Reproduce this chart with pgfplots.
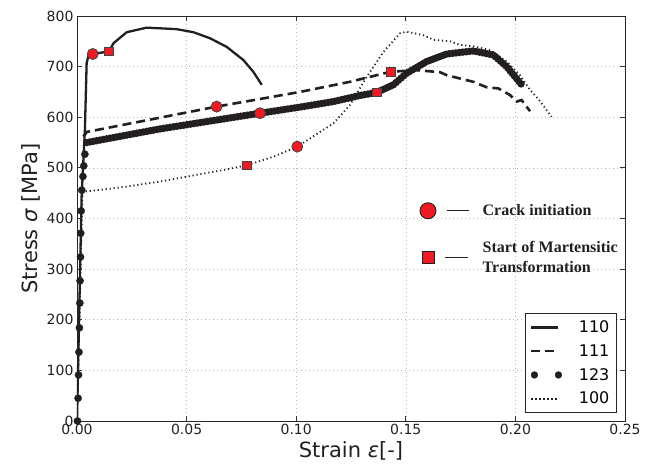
\documentclass[border=0pt]{standalone}
\usepackage{fontspec}
\setmainfont{DejaVu Sans}
\newfontfamily\serifbf{Liberation Serif}
\usepackage{pgfplots}
\pgfplotsset{compat=1.18}
\definecolor{mkred}{RGB}{237,28,36}
\definecolor{ink}{RGB}{35,31,32}
\begin{document}
\begin{tikzpicture}
\begin{axis}[
  name=ax,
  width=548pt, height=405pt, scale only axis,
  xmin=0, xmax=0.25, ymin=0, ymax=800,
  xtick={0,0.05,0.1,0.15,0.2,0.25},
  ytick={0,100,...,800},
  scaled x ticks=false,
  xticklabel style={/pgf/number format/.cd, fixed, fixed zerofill, precision=2},
  /pgf/number format/assume math mode=true,
  tick label style={font=\fontsize{14}{16}\selectfont, text=ink},
  label style={font=\fontsize{21}{24}\selectfont, text=ink},
  xlabel={Strain {\itshape ε}[-]},
  ylabel={Stress {\itshape σ} [MPa]},
  tick align=inside,
  major tick length=5pt,
  tick style={black!80, line width=0.8pt},
  grid=major,
  grid style={gray!55, line width=0.6pt, dash pattern=on 1pt off 3pt},
  axis line style={black!85, line width=0.9pt},
  legend style={at={(axis description cs:0.985,0.02)}, anchor=south east,
    draw=black!85, line width=0.8pt, font=\fontsize{16}{19}\selectfont,
    inner sep=5pt, row sep=6.5pt, column sep=15pt, cells={anchor=west}},
  legend image code/.code={\draw[#1] (0pt,0pt) -- (27pt,0pt);},
]
% 110
\addplot[ink, line width=2.3pt] coordinates {
(0,0) (0.0021,443) (0.0036,575) (0.0044,707) (0.0052,721) (0.0072,725)
(0.0146,730) (0.0166,746) (0.0196,757) (0.0227,768) (0.0318,777)
(0.0455,774) (0.0531,768) (0.0607,756) (0.0683,739) (0.0759,713)
(0.0804,690) (0.0843,664)};
\addlegendentry{110}
% 111
\addplot[ink, line width=2.6pt, dash pattern=on 9pt off 5pt] coordinates {
(0.0029,562) (0.0045,571) (0.0637,621) (0.1017,650) (0.1245,670)
(0.1432,690) (0.155,693) (0.1656,689) (0.1687,683) (0.1808,670)
(0.187,659) (0.1922,657) (0.1975,644) (0.2006,631) (0.2028,634) (0.2067,612)};
\addlegendentry{111}
% 123 elastic (sparse markers)
\addplot[ink, only marks, mark=*, mark size=3.6pt, forget plot] coordinates {
(0.0002,0) (0.0005,45) (0.0007,91) (0.0009,136) (0.0011,184) (0.0013,233)
(0.0014,277) (0.0016,324) (0.0017,371) (0.0019,415) (0.0022,456)
(0.0027,483) (0.0031,504) (0.0036,527)};
% 123 plastic (dense markers)
\addplot[ink, line width=7.5pt, line cap=round, dash pattern=on 0pt off 3.4pt,
  legend image code/.code={\draw[ink, line width=0.4pt, solid, mark=*, mark size=3.4pt, mark options={fill=ink, draw=ink, line width=0.4pt, solid}] plot[only marks] coordinates {(3pt,0pt) (27pt,0pt)};}]
coordinates {
(0.0044,550) (0.0379,577) (0.0835,608) (0.1017,620) (0.117,631)
(0.1291,643) (0.1367,649) (0.1443,664) (0.1504,687) (0.1595,710)
(0.1687,725) (0.1808,731) (0.19,723) (0.196,700) (0.2029,664)};
\addlegendentry{123}
% 100
\addplot[ink, line width=1.8pt, dash pattern=on 1.2pt off 2.8pt] coordinates {
(0,0) (0.0025,450) (0.0029,453) (0.0074,455) (0.0227,463) (0.0379,473)
(0.053,485) (0.0683,497) (0.0774,505) (0.0896,522) (0.1005,542)
(0.117,588) (0.1245,624) (0.1322,680) (0.1398,729) (0.1474,766)
(0.1504,769) (0.158,762) (0.1626,753) (0.1702,750) (0.1747,743)
(0.1808,740) (0.1884,733) (0.196,710) (0.2021,683) (0.2067,654)
(0.2112,632) (0.2165,601)};
\addlegendentry{100}
% crack initiation
\addplot[only marks, mark=*, mark size=5.5pt,
  mark options={fill=mkred, draw=ink!85, line width=0.8pt}, forget plot]
coordinates {(0.0072,725) (0.0637,621) (0.0835,608) (0.1005,542)};
% start of martensitic transformation
\addplot[only marks, mark=square*, mark size=4.4pt,
  mark options={fill=mkred, draw=ink!85, line width=0.8pt}, forget plot]
coordinates {(0.0146,730) (0.1432,690) (0.1367,649) (0.0774,505)};
\end{axis}
\begin{axis}[
  at={(ax.south west)}, anchor=south west,
  width=548pt, height=405pt, scale only axis, hide axis,
  xmin=0, xmax=1, ymin=0, ymax=1,
  legend style={at={(axis description cs:0.62,0.545)}, anchor=north west,
    draw=none, fill=none, font=\serifbf\bfseries\fontsize{16}{20}\selectfont,
    text=ink, row sep=20pt, column sep=11pt, cells={align=left}},
  legend cell align=left,
]
\addlegendimage{legend image code/.code={
  \draw[mark=*, mark size=8pt, mark options={fill=mkred, draw=ink, line width=0.9pt}] plot[only marks] coordinates {(0pt,0pt)};
  \draw[ink, line width=1.4pt] (19pt,0pt) -- (41pt,0pt);}}
\addlegendentry{Crack initiation}
\addlegendimage{legend image code/.code={
  \draw[mark=square*, mark size=6pt, mark options={fill=mkred, draw=ink, line width=0.9pt}] plot[only marks] coordinates {(0pt,0pt)};
  \draw[ink, line width=1.4pt] (17pt,0pt) -- (40pt,0pt);}}
\addlegendentry{Start of Martensitic\\Transformation}
\end{axis}
\pgfresetboundingbox
\path (ax.south west) ++(-77pt,-50pt) rectangle ++(656pt,471pt);
\end{tikzpicture}
\end{document}
